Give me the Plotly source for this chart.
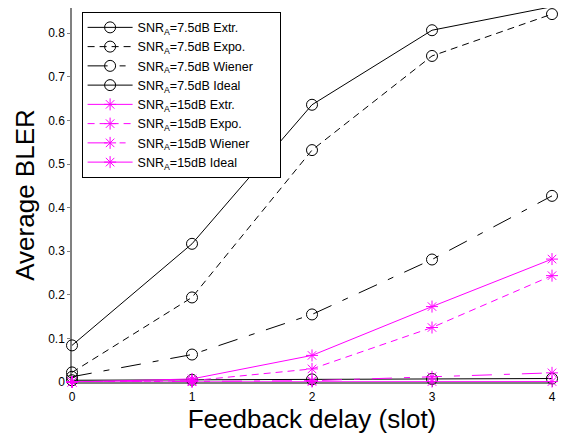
import plotly.graph_objects as go

delay = [0, 1, 2, 3, 4]

snr75_extr = [0.084, 0.317, 0.636, 0.807, 0.861]
snr75_expo = [0.022, 0.194, 0.532, 0.748, 0.844]
snr75_wiener = [0.012, 0.063, 0.155, 0.281, 0.427]
snr75_ideal = [0.004, 0.005, 0.006, 0.007, 0.008]

snr15_extr = [0.0, 0.007, 0.061, 0.173, 0.282]
snr15_expo = [0.0, 0.003, 0.030, 0.125, 0.244]
snr15_wiener = [0.0, 0.001, 0.003, 0.012, 0.021]
snr15_ideal = [0.0, 0.0005, 0.001, 0.001, 0.001]

names = [
    "SNR<sub>A</sub>=7.5dB Extr.",
    "SNR<sub>A</sub>=7.5dB Expo.",
    "SNR<sub>A</sub>=7.5dB Wiener\u00a0\u00a0\u00a0\u00a0\u00a0\u00a0",
    "SNR<sub>A</sub>=7.5dB Ideal",
    "SNR<sub>A</sub>=15dB Extr.",
    "SNR<sub>A</sub>=15dB Expo.",
    "SNR<sub>A</sub>=15dB Wiener",
    "SNR<sub>A</sub>=15dB Ideal",
]

series = [snr75_extr, snr75_expo, snr75_wiener, snr75_ideal,
          snr15_extr, snr15_expo, snr15_wiener, snr15_ideal]
dashes = ["solid", "7px,5px", "20px,12px,6px,12px", "solid",
          "solid", "7px,5px", "20px,12px,6px,12px", "solid"]

fig = go.Figure()
for i, (nm, ys, dsh) in enumerate(zip(names, series, dashes)):
    black = i < 4
    color = "black" if black else "#FF00FF"
    fig.add_trace(go.Scatter(
        x=delay, y=ys, name=nm, mode="lines+markers",
        line=dict(color=color, width=1, dash=dsh),
        marker=dict(symbol="circle-open" if black else "asterisk-open",
                    size=11 if black else 10, color=color,
                    line=dict(color=color, width=1)),
        cliponaxis=False,
    ))

fig.update_layout(
    width=564, height=438,
    margin=dict(l=72, r=8, t=8, b=56),
    plot_bgcolor="white", paper_bgcolor="white",
    font=dict(family="Arial, Liberation Sans, sans-serif", color="black"),
    legend=dict(
        x=0.02, y=0.99, xanchor="left", yanchor="top",
        bordercolor="black", borderwidth=1, bgcolor="white",
        font=dict(size=12.5, family="Arial, Liberation Sans, sans-serif"),
        itemwidth=45, tracegroupgap=0,
    ),
    xaxis=dict(
        range=[0, 4], tickvals=delay, ticktext=[str(d) for d in delay],
        showline=True, linecolor="#808080", linewidth=1.5,
        ticks="outside", ticklen=3, tickcolor="#808080",
        showgrid=False, zeroline=False, layer="below traces",
        tickfont=dict(size=12),
        title=dict(text="Feedback delay (slot)", font=dict(size=26), standoff=6),
    ),
    yaxis=dict(
        range=[0, 0.858],
        tickvals=[0, 0.1, 0.2, 0.3, 0.4, 0.5, 0.6, 0.7, 0.8],
        ticktext=["0", "0.1", "0.2", "0.3", "0.4", "0.5", "0.6", "0.7", "0.8"],
        showline=True, linecolor="#808080", linewidth=1.5,
        ticks="outside", ticklen=3, tickcolor="#808080",
        showgrid=False, zeroline=False, layer="below traces",
        tickfont=dict(size=12),
        title=dict(text="Average BLER", font=dict(size=26), standoff=6),
    ),
)

fig.write_html("out.html")
